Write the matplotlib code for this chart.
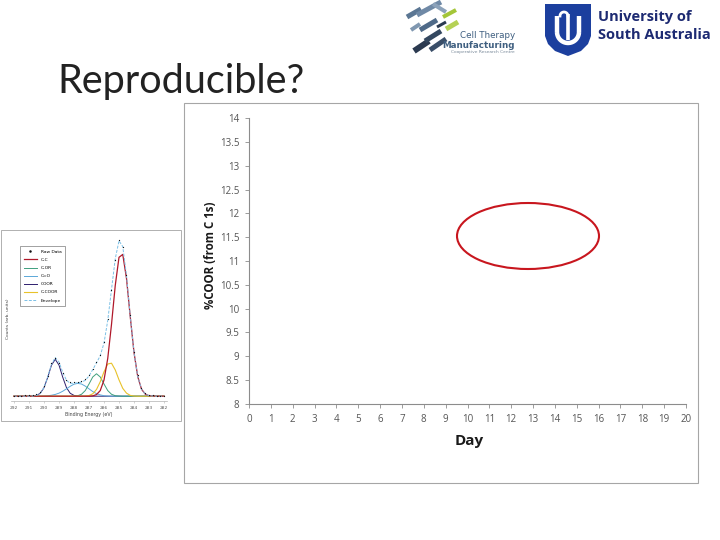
import numpy as np
import matplotlib
matplotlib.use('Agg')
import matplotlib.pyplot as plt
from matplotlib.patches import Rectangle, Ellipse, Polygon
from matplotlib import font_manager

W, H = 720, 540

# ---------------- data ----------------
# main (empty) chart
days = list(range(0, 21))
ytick_vals = [8, 8.5, 9, 9.5, 10, 10.5, 11, 11.5, 12, 12.5, 13, 13.5, 14]
ytick_labels = ['8', '8.5', '9', '9.5', '10', '10.5', '11', '11.5', '12', '12.5', '13', '13.5', '14']

# inset C 1s spectrum (binding energy, eV)
energy = [292.0, 291.75, 291.5, 291.25, 291.0, 290.75, 290.5, 290.25, 290.0, 289.75,
          289.5, 289.25, 289.0, 288.75, 288.5, 288.25, 288.0, 287.75, 287.5, 287.25,
          287.0, 286.75, 286.5, 286.25, 286.0, 285.75, 285.5, 285.25, 285.0, 284.75,
          284.5, 284.25, 284.0, 283.75, 283.5, 283.25, 283.0, 282.75, 282.5, 282.25, 282.0]
cc = [0, 0, 0, 0, 0, 0, 0, 0, 0, 0, 0, 0, 0, 0, 0, 0, 0, 0, 0, 0,
      0.0, 0.2, 1.0, 3.5, 10.1, 23.6, 44.8, 69.1, 86.7, 88.5,
      73.5, 49.6, 27.3, 12.2, 4.4, 1.3, 0.3, 0.1, 0, 0, 0]
c_coor = [0, 0, 0, 0, 0, 0, 0, 0, 0, 0, 0, 0, 0, 0, 0, 0, 0, 0, 0.0, 0.1,
          0.4, 1.5, 4.2, 9.0, 15.2, 20.1, 20.6, 16.4, 10.2, 4.9,
          1.9, 0.5, 0.1, 0, 0, 0, 0, 0, 0, 0, 0]
c_or = [0, 0, 0, 0, 0, 0, 0, 0, 0, 0, 0, 0, 0, 0, 0, 0, 0.1, 0.3, 1.2, 3.5,
        7.6, 12.0, 14.0, 12.0, 7.6, 3.5, 1.2, 0.3, 0.1, 0,
        0, 0, 0, 0, 0, 0, 0, 0, 0, 0, 0]
c_o = [0, 0, 0, 0, 0, 0, 0, 0, 0.1, 0.3, 0.6, 1.1, 1.9, 3.1, 4.6, 6.2, 7.5, 8.0, 7.6, 6.3,
       4.6, 2.9, 1.6, 0.8, 0.3, 0.1, 0, 0, 0, 0,
       0, 0, 0, 0, 0, 0, 0, 0, 0, 0, 0]
coor = [0, 0, 0, 0, 0, 0.1, 0.5, 1.8, 5.3, 11.8, 19.4, 23.0, 19.4, 11.8, 5.3, 1.8, 0.5, 0.1, 0, 0,
        0, 0, 0, 0, 0, 0, 0, 0, 0, 0,
        0, 0, 0, 0, 0, 0, 0, 0, 0, 0, 0]
envelope = [0, 0, 0, 0, 0, 0.1, 0.5, 1.8, 5.4, 12.1, 20.0, 24.1, 21.3, 14.9, 9.9, 8.0, 8.1, 8.4, 8.8, 9.9,
            12.6, 16.6, 20.8, 25.3, 33.2, 47.3, 66.6, 85.8, 97.0, 93.4,
            75.4, 50.1, 27.4, 12.2, 4.4, 1.3, 0.3, 0.1, 0, 0, 0]
raw = [0.3, 0.2, 0.4, 0.5, 0.8, 1.0, 1.5, 2.8, 6.3, 12.7, 20.6, 23.8, 20.9, 14.6, 10.3, 8.6, 8.6, 9.0, 9.6, 10.7,
       13.4, 17.1, 21.5, 25.8, 33.9, 47.9, 66.1, 85.2, 97.8, 93.0,
       75.9, 50.8, 27.9, 13.0, 5.1, 2.0, 0.9, 0.5, 0.3, 0.2, 0.2]
inset_xticks = [292, 291, 290, 289, 288, 287, 286, 285, 284, 283, 282]


def fx(x):
    return x / W


def fy(y):
    return 1 - y / H


def axes_px(fig, x0, y0, x1, y1, **kw):
    return fig.add_axes([fx(x0), fy(y1), (x1 - x0) / W, (y1 - y0) / H], **kw)


available = {f.name for f in font_manager.fontManager.ttflist}
narrow = 'Liberation Sans Narrow' if 'Liberation Sans Narrow' in available else 'Open Sans'
label_size = 10.5 if narrow == 'Liberation Sans Narrow' else 8.3

fig = plt.figure(figsize=(7.2, 5.4), dpi=100)
fig.patch.set_facecolor('white')

# ---------------- title ----------------
fig.text(fx(57), fy(81), 'Reproducible?', fontsize=28.5, family='Lato', fontweight='normal',
         color='#222222', va='center', ha='left')

# ---------------- logos ----------------
lax = axes_px(fig, 400, 0, 475, 58)
lax.set_xlim(400, 475)
lax.set_ylim(58, 0)
lax.axis('off')
bars = [
    ((407, 17), (421, 9), 5, '#5B7693'),
    ((417, 15), (441, 2), 5, '#6F89A6'),
    ((433, 4), (446, 12), 4, '#8CA2BA'),
    ((420, 30), (437, 20), 5, '#4F6A88'),
    ((411, 30), (420, 24), 4, '#7F97B0'),
    ((414, 51), (429, 41), 6, '#2B3A50'),
    ((425, 41), (441, 31), 5, '#33475F'),
    ((430, 50), (446, 39), 5, '#3A4E68'),
    ((443, 17), (456, 10), 4, '#A4C639'),
    ((446, 29), (458, 22), 5, '#B5D155'),
    ((437, 27), (446, 22), 3, '#2B3A50'),
]
for (x1, y1), (x2, y2), w, c in bars:
    lax.plot([x1, x2], [y1, y2], color=c, lw=w * 0.72, solid_capstyle='butt')

fig.text(fx(515), fy(36), 'Cell Therapy', fontsize=6.3, family='DejaVu Sans', color='#3F5F80',
         ha='right', va='center')
fig.text(fx(515), fy(45), 'Manufacturing', fontsize=6.3, family='DejaVu Sans', fontweight='bold',
         color='#3F5F80', ha='right', va='center')
fig.text(fx(515), fy(52), 'Cooperative Research Centre', fontsize=3.2, family='DejaVu Sans',
         color='#7A8A9A', ha='right', va='center')

# UniSA shield
sax = axes_px(fig, 545, 4, 591, 56)
sax.set_xlim(0, 46)
sax.set_ylim(0, 52)
sax.axis('off')
shield = Polygon([(0, 52), (46, 52), (46, 20), (43, 12), (36, 5), (23, 0), (10, 5), (3, 12), (0, 20)],
                 closed=True, facecolor='#1C3F9E', edgecolor='none')
sax.add_patch(shield)
t = np.linspace(np.pi, 2 * np.pi, 30)
sax.plot(23 + 11 * np.cos(t), 24 + 11 * np.sin(t), color='white', lw=3.2, solid_capstyle='butt')
sax.plot([12, 12], [24, 40], color='white', lw=3.2, solid_capstyle='butt')
sax.plot([34, 34], [24, 40], color='white', lw=3.2, solid_capstyle='butt')
sax.plot([23, 23], [16, 42], color='white', lw=2.6, solid_capstyle='butt')
sax.plot(19 + 4 * np.cos(np.linspace(0, np.pi, 20)), 40 + 4 * np.sin(np.linspace(0, np.pi, 20)),
         color='white', lw=2.0)

fig.text(fx(598), fy(17), 'University of', fontsize=10.5, family='Open Sans', fontweight='bold',
         color='#1D2A72', ha='left', va='center')
fig.text(fx(598), fy(35), 'South Australia', fontsize=10.5, family='Open Sans', fontweight='bold',
         color='#1D2A72', ha='left', va='center')

# ---------------- main chart frame ----------------
fig.patches.append(Rectangle((fx(184), fy(483)), (698 - 184) / W, (483 - 103) / H,
                             transform=fig.transFigure, facecolor='none', edgecolor='#A6A6A6', lw=0.8))

ax = axes_px(fig, 249, 118, 686, 404)
ax.set_xlim(min(days), max(days))
ax.set_ylim(min(ytick_vals), max(ytick_vals))
ax.set_xticks(days)
ax.set_xticklabels([str(d) for d in days])
ax.set_yticks(ytick_vals)
ax.set_yticklabels(ytick_labels)
for s in ['top', 'right']:
    ax.spines[s].set_visible(False)
for s in ['left', 'bottom']:
    ax.spines[s].set_color('#8C8C8C')
    ax.spines[s].set_linewidth(0.8)
ax.tick_params(axis='both', direction='out', length=3, width=0.6, color='#8C8C8C',
               labelsize=7, labelcolor='#555555', pad=4)
for lab in ax.get_xticklabels() + ax.get_yticklabels():
    lab.set_family('Open Sans')
ax.set_facecolor('none')

fig.text(fx(211), fy(255), '%COOR (from C 1s)', rotation=90, fontsize=label_size, family=narrow,
         fontweight='bold', color='#1A1A1A', ha='center', va='center')
fig.text(fx(469), fy(441), 'Day', fontsize=11, family='Open Sans', fontweight='bold',
         color='#1A1A1A', ha='center', va='center')

# red ellipse
fig.patches.append(Ellipse((fx(528), fy(236)), 142 / W, 66 / H, transform=fig.transFigure,
                           facecolor='none', edgecolor='#C8161E', lw=1.5))

# ---------------- inset spectrum ----------------
fig.patches.append(Rectangle((fx(1), fy(421)), 180 / W, (421 - 230) / H,
                             transform=fig.transFigure, facecolor='none', edgecolor='#B0B0B0', lw=0.7))
iax = axes_px(fig, 11, 236, 167, 401)
iax.set_xlim(292.2, 281.8)
iax.set_ylim(-3, 100)
iax.plot(energy, coor, color='#2E1F6E', lw=0.7, label='COOR')
iax.plot(energy, c_o, color='#5BA8D8', lw=0.7, label='C=O')
iax.plot(energy, c_or, color='#3FA07E', lw=0.7, label='C-OR')
iax.plot(energy, c_coor, color='#E8C22A', lw=0.8, label='C-COOR')
iax.plot(energy, cc, color='#B0182A', lw=0.9, label='C-C')
iax.plot(energy, envelope, color='#7CC0E6', lw=0.7, ls=(0, (3, 1.5)), label='Envelope')
iax.plot(energy, raw, ls='none', marker='o', ms=0.9, mew=0, color='#111111', label='Raw Data')
for s in ['top', 'right', 'left']:
    iax.spines[s].set_visible(False)
iax.spines['bottom'].set_color('#B0B0B0')
iax.spines['bottom'].set_linewidth(0.5)
iax.set_yticks([])
iax.set_xticks(inset_xticks)
iax.set_xticklabels([str(v) for v in inset_xticks])
iax.tick_params(axis='x', length=1.5, width=0.4, color='#B0B0B0', labelsize=3.2,
                labelcolor='#555555', pad=2)
iax.set_xlabel('Binding Energy (eV)', fontsize=3.4, color='#444444', labelpad=1.5)
iax.set_ylabel('Counts (arb. units)', fontsize=3.2, color='#444444', labelpad=1)
iax.set_facecolor('none')
handles, labels = iax.get_legend_handles_labels()
order = ['Raw Data', 'C-C', 'C-OR', 'C=O', 'COOR', 'C-COOR', 'Envelope']
hmap = dict(zip(labels, handles))
leg = iax.legend([hmap[k] for k in order], order, loc='upper left',
                 bbox_to_anchor=(fx(18), fy(244)), bbox_transform=fig.transFigure,
                 fontsize=3.2, frameon=True, fancybox=False, edgecolor='#333333',
                 handlelength=3, labelspacing=0.9, borderpad=0.8, markerscale=2)
leg.get_frame().set_linewidth(0.4)

fig.savefig('out.png', dpi=100, facecolor='white')
